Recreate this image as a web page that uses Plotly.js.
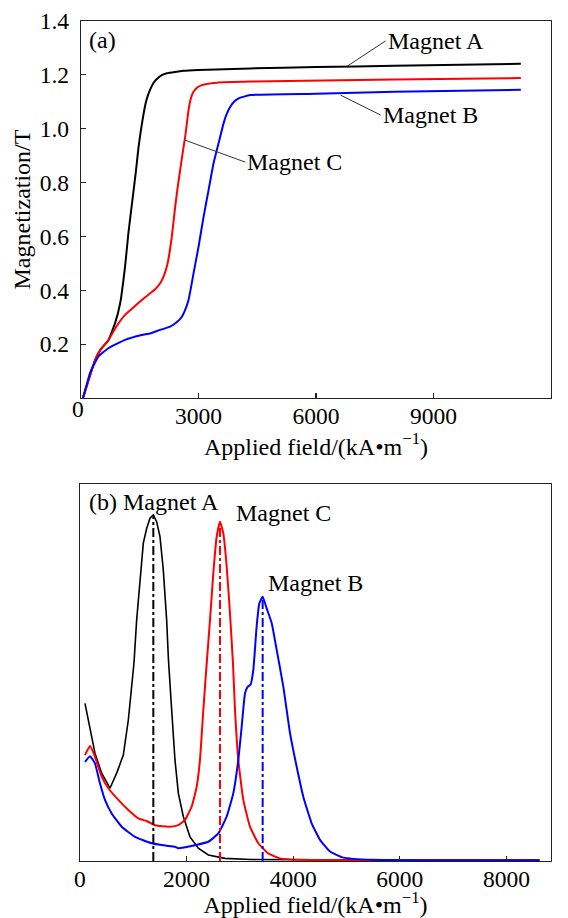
<!DOCTYPE html>
<html><head><meta charset="utf-8">
<script src="https://cdn.plot.ly/plotly-3.0.1.min.js"></script>
<style>html,body{margin:0;padding:0;background:#fff}#chart{width:568px;height:918px}</style>
</head><body><div id="chart"></div>
<script>
// ---------- Panel (a): magnetization curves ----------
const fieldA = [50, 200, 358, 500, 700, 870, 1000, 1125, 1210, 1300, 1400, 1466, 1530, 1594, 1650, 1700, 1765, 1850, 1936, 2064, 2191, 2400, 2617, 3000, 4322, 6000, 8000, 11230];
const magA   = [0, 0.07, 0.141, 0.18, 0.215, 0.278, 0.352, 0.488, 0.612, 0.72, 0.84, 0.928, 0.995, 1.052, 1.095, 1.120, 1.145, 1.170, 1.185, 1.199, 1.206, 1.211, 1.215, 1.218, 1.224, 1.229, 1.234, 1.241];

const fieldC = [50, 200, 358, 500, 700, 900, 1125, 1350, 1552, 1765, 1900, 2020, 2110, 2191, 2255, 2319, 2404, 2470, 2532, 2600, 2660, 2745, 2810, 2873, 2960, 3086, 3470, 4322, 8000, 11230];
const magC   = [0, 0.07, 0.141, 0.18, 0.215, 0.265, 0.309, 0.338, 0.364, 0.389, 0.405, 0.426, 0.452, 0.488, 0.535, 0.599, 0.710, 0.785, 0.847, 0.915, 0.970, 1.069, 1.115, 1.137, 1.152, 1.162, 1.171, 1.175, 1.183, 1.188];

const fieldB = [50, 130, 230, 300, 443, 699, 1125, 1552, 1765, 2020, 2276, 2450, 2575, 2680, 2745, 2810, 2873, 3001, 3129, 3257, 3384, 3512, 3640, 3720, 3811, 3920, 4024, 4322, 6000, 8000, 11230];
const magB   = [0, 0.042, 0.093, 0.115, 0.154, 0.185, 0.216, 0.234, 0.240, 0.253, 0.265, 0.282, 0.302, 0.335, 0.364, 0.412, 0.463, 0.562, 0.673, 0.772, 0.872, 0.946, 1.020, 1.055, 1.082, 1.102, 1.113, 1.125, 1.130, 1.137, 1.145];

// ---------- Panel (b): differential curves (relative units) ----------
const fieldBlack = [94, 188, 281, 407, 563, 688, 813, 907, 969, 1013, 1063, 1126, 1188, 1251, 1313, 1376, 1438, 1501, 1563, 1626, 1660, 1720, 1782, 1845, 1938, 2064, 2220, 2408, 2720, 3200, 4000, 5000, 6000, 7000, 8620];
const dBlack     = [0.418, 0.356, 0.286, 0.233, 0.193, 0.233, 0.281, 0.374, 0.462, 0.525, 0.639, 0.745, 0.843, 0.882, 0.909, 0.918, 0.900, 0.860, 0.772, 0.639, 0.533, 0.401, 0.268, 0.180, 0.118, 0.064, 0.034, 0.016, 0.007, 0.004, 0.003, 0.002, 0.002, 0.002, 0.002];

const fieldRed = [94, 188, 281, 407, 532, 720, 907, 1094, 1251, 1407, 1550, 1689, 1845, 1970, 2095, 2189, 2251, 2314, 2377, 2439, 2501, 2564, 2627, 2689, 2752, 2814, 2870, 2908, 2970, 3064, 3189, 3345, 3533, 3752, 4200, 5000, 6000, 7000, 8620];
const dRed     = [0.281, 0.305, 0.277, 0.224, 0.193, 0.162, 0.135, 0.113, 0.106, 0.095, 0.092, 0.091, 0.095, 0.109, 0.144, 0.197, 0.268, 0.401, 0.524, 0.639, 0.763, 0.860, 0.900, 0.869, 0.781, 0.657, 0.524, 0.401, 0.268, 0.162, 0.091, 0.047, 0.020, 0.007, 0.003, 0.002, 0.002, 0.002, 0.002];

const fieldBlue = [94, 188, 281, 375, 469, 595, 782, 1032, 1345, 1600, 1782, 1845, 1950, 2158, 2408, 2595, 2752, 2877, 2970, 3033, 3096, 3145, 3200, 3252, 3314, 3364, 3427, 3502, 3596, 3690, 3815, 3940, 4065, 4190, 4346, 4503, 4690, 4940, 5503, 6500, 7500, 8620];
const dBlue     = [0.263, 0.278, 0.259, 0.206, 0.162, 0.126, 0.091, 0.064, 0.047, 0.041, 0.038, 0.034, 0.036, 0.042, 0.051, 0.073, 0.118, 0.180, 0.268, 0.356, 0.445, 0.462, 0.468, 0.507, 0.622, 0.683, 0.701, 0.670, 0.631, 0.560, 0.462, 0.339, 0.250, 0.170, 0.100, 0.056, 0.025, 0.009, 0.003, 0.002, 0.002, 0.002];

// peak positions (dash-dot markers)
const peakNames = ['Magnet A', 'Magnet C', 'Magnet B'];
const peakField = [1376, 2627, 3427];
const peakValue = [0.918, 0.900, 0.701];
const peakColors = ['#000000', '#ff0000', '#0000ff'];

// tick labels
const xTicksA = [3000, 6000, 9000, 12000];
const yTicksA = [0.2, 0.4, 0.6, 0.8, 1.0, 1.2, 1.4];
const xTicksB = [0, 2000, 4000, 6000, 8000];

const BLACK = '#000000', RED = '#ff0000', BLUE = '#0000ff';
const FONT = 'Liberation Serif';

const traces = [
  {x: fieldA, y: magA, xaxis: 'x', yaxis: 'y', mode: 'lines', name: 'Magnet A', line: {color: BLACK, width: 2, shape: 'spline', smoothing: 0.4}},
  {x: fieldC, y: magC, xaxis: 'x', yaxis: 'y', mode: 'lines', name: 'Magnet C', line: {color: RED, width: 2, shape: 'spline', smoothing: 0.4}},
  {x: fieldB, y: magB, xaxis: 'x', yaxis: 'y', mode: 'lines', name: 'Magnet B', line: {color: BLUE, width: 2, shape: 'spline', smoothing: 0.4}},
  {x: fieldBlack, y: dBlack, xaxis: 'x2', yaxis: 'y2', mode: 'lines', name: 'Magnet A', line: {color: BLACK, width: 1.6}},
  {x: fieldRed, y: dRed, xaxis: 'x2', yaxis: 'y2', mode: 'lines', name: 'Magnet C', line: {color: RED, width: 2, shape: 'spline', smoothing: 0.4}},
  {x: fieldBlue, y: dBlue, xaxis: 'x2', yaxis: 'y2', mode: 'lines', name: 'Magnet B', line: {color: BLUE, width: 2, shape: 'spline', smoothing: 0.4}}
];
for (let i = 0; i < peakField.length; i++) {
  traces.push({x: [peakField[i], peakField[i]], y: [0, peakValue[i]], xaxis: 'x2', yaxis: 'y2', mode: 'lines',
    name: peakNames[i] + ' peak', line: {color: peakColors[i], width: 2, dash: 'dashdot'}});
}

const axisLine = {showline: true, linecolor: '#222', linewidth: 1.2, mirror: true, showgrid: false, zeroline: false,
  ticks: 'inside', ticklen: 5, tickcolor: '#222', tickwidth: 1.2, automargin: false, tickfont: {size: 23.5, family: FONT, color: '#000'}};

const layout = {
  width: 568, height: 918,
  margin: {l: 0, r: 0, t: 0, b: 0},
  paper_bgcolor: '#fff', plot_bgcolor: '#fff',
  showlegend: false,
  font: {family: FONT, size: 23.5, color: '#000'},
  xaxis: Object.assign({}, axisLine, {domain: [0.1426, 0.9701], anchor: 'y', range: [0, 12000], tickvals: xTicksA,
    ticklabelstandoff: -3,
    title: {text: 'Applied field/(kA\u2022m<sup>\u22121</sup>)', font: {size: 24, family: FONT}, standoff: 1}}),
  yaxis: Object.assign({}, axisLine, {domain: [0.5664, 0.9771], anchor: 'x', range: [0, 1.4], tickvals: yTicksA, tickformat: '.1f',
    ticklabelstandoff: 6,
    title: {text: 'Magnetization/T', font: {size: 24, family: FONT}, standoff: 2}}),
  xaxis2: Object.assign({}, axisLine, {domain: [0.1408, 0.9701], anchor: 'y2', range: [0, 8836], tickvals: xTicksB,
    ticklabelstandoff: -3,
    title: {text: 'Applied field/(kA\u2022m<sup>\u22121</sup>)', font: {size: 24, family: FONT}, standoff: 13}}),
  yaxis2: Object.assign({}, axisLine, {domain: [0.0621, 0.4728], anchor: 'x2', range: [0, 1.0], showticklabels: false, ticks: ''}),
  annotations: [
    {xref: 'paper', yref: 'paper', x: 70 / 568, y: 1 - 409 / 918, text: '0', showarrow: false, font: {size: 23.5}},
    {xref: 'x', yref: 'y', x: 537, y: 1.329, text: '(a)', showarrow: false, font: {size: 24}},
    {xref: 'x', yref: 'y', x: 6803, y: 1.233, axref: 'x', ayref: 'y', ax: 7775, ay: 1.326, xanchor: 'left',
      text: 'Magnet A', showarrow: true, arrowhead: 0, arrowwidth: 1, arrowcolor: '#333', font: {size: 24}},
    {xref: 'x', yref: 'y', x: 6624, y: 1.125, axref: 'x', ayref: 'y', ax: 7647, ay: 1.051, xanchor: 'left',
      text: 'Magnet B', showarrow: true, arrowhead: 0, arrowwidth: 1, arrowcolor: '#333', font: {size: 24}},
    {xref: 'x', yref: 'y', x: 2650, y: 0.958, axref: 'x', ayref: 'y', ax: 4194, ay: 0.876, xanchor: 'left',
      text: 'Magnet C', showarrow: true, arrowhead: 0, arrowwidth: 1, arrowcolor: '#333', font: {size: 24}},
    {xref: 'x2', yref: 'y2', x: 431, y: 0.952, text: '(b)', showarrow: false, font: {size: 24}},
    {xref: 'x2', yref: 'y2', x: 1707, y: 0.952, text: 'Magnet A', showarrow: false, font: {size: 24}},
    {xref: 'x2', yref: 'y2', x: 3809, y: 0.923, text: 'Magnet C', showarrow: false, font: {size: 24}},
    {xref: 'x2', yref: 'y2', x: 4409, y: 0.737, text: 'Magnet B', showarrow: false, font: {size: 24}}
  ]
};

Plotly.newPlot('chart', traces, layout, {displayModeBar: false, staticPlot: true});
</script></body></html>
